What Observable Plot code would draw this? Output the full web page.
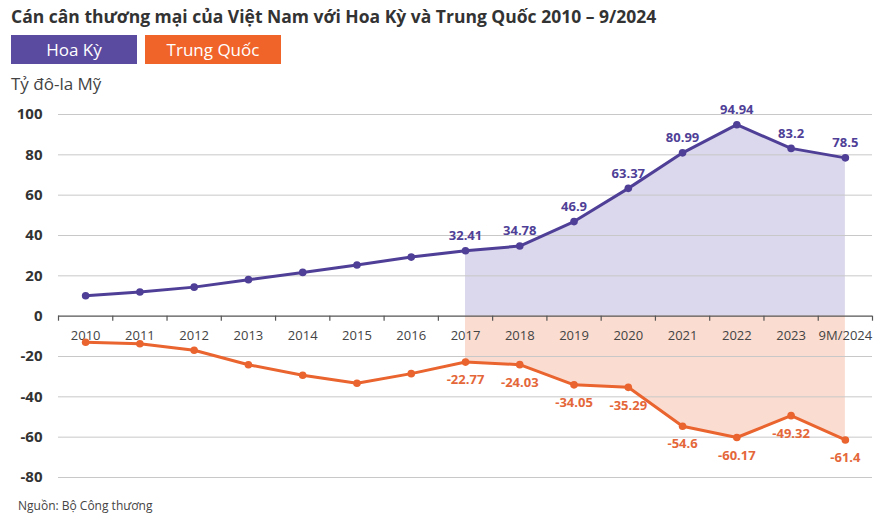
<!DOCTYPE html>
<html>
<head>
<meta charset="utf-8">
<script src="https://cdn.jsdelivr.net/npm/d3@7"></script>
<script src="https://cdn.jsdelivr.net/npm/@observablehq/plot@0.6"></script>
<style>
  body { margin: 0; background: #fff; }
  #wrap { position: relative; width: 884px; height: 520px; font-family: "Open Sans", sans-serif; overflow: hidden; }
  .abs { position: absolute; white-space: nowrap; }
  #title { left: 11px; top: 5px; font-size: 17.5px; line-height: 23px; font-weight: 700; color: #333; }
  .key { top: 35px; height: 29px; line-height: 29px; font-size: 17px; color: #fff; text-align: center; }
  #unit { left: 11px; top: 72px; font-size: 17px; line-height: 23px; color: #444; }
  #source { left: 18px; top: 498px; font-size: 12px; line-height: 16px; color: #444; }
  #chart { left: 0; top: 100px; }
</style>
</head>
<body>
<div id="wrap">
  <div id="title" class="abs">Cán cân thương mại của Việt Nam với Hoa Kỳ và Trung Quốc 2010 – 9/2024</div>
  <div class="abs key" style="left:11px;width:126px;background:#5a4aa0;">Hoa Kỳ</div>
  <div class="abs key" style="left:145px;width:136px;background:#f0642a;">Trung Quốc</div>
  <div id="unit" class="abs">Tỷ đô-la Mỹ</div>
  <div id="chart" class="abs"></div>
  <div id="source" class="abs">Nguồn: Bộ Công thương</div>
</div>
<script>
const categories = ["2010","2011","2012","2013","2014","2015","2016","2017","2018","2019","2020","2021","2022","2023","9M/2024"];
const usValues = [10.1, 12.0, 14.4, 18.1, 21.7, 25.4, 29.3, 32.41, 34.78, 46.9, 63.37, 80.99, 94.94, 83.2, 78.5];
const cnValues = [-12.9, -13.7, -16.9, -24.1, -29.3, -33.3, -28.5, -22.77, -24.03, -34.05, -35.29, -54.6, -60.17, -49.32, -61.4];
const yTicks = [-80, -60, -40, -20, 0, 20, 40, 60, 80, 100];
const labelFrom = "2017";

const US = "#4f3f97", CN = "#e9642e";
const rows = categories.map((c, i) => ({i, c, us: usValues[i], cn: cnValues[i]}));
const start = categories.indexOf(labelFrom);
const labeled = rows.filter(d => d.i >= start);
const bounds = d3.range(categories.length + 1).map(i => i - 0.5);

const chart = Plot.plot({
  width: 884,
  height: 410,
  marginTop: 14,
  marginBottom: 33,
  marginLeft: 58,
  marginRight: 12,
  style: {fontFamily: "Open Sans, sans-serif", background: "white", overflow: "visible"},
  x: {domain: [-0.5, categories.length - 0.5], axis: null},
  y: {domain: [-80, 100], axis: null},
  marks: [
    Plot.areaY(labeled, {x: "i", y1: 0, y2: "us", fill: "#dbd7ec"}),
    Plot.areaY(labeled, {x: "i", y1: 0, y2: "cn", fill: "#fbdcd0"}),
    Plot.gridY(yTicks.filter(v => v !== 0), {stroke: "#c8c8c8", strokeOpacity: 1, strokeWidth: 1}),
    Plot.ruleY([0], {stroke: "#555", strokeWidth: 1.2}),
    Plot.ruleX(bounds, {x: d => d, y1: 0, y2: -2.5, stroke: "#555", strokeWidth: 1.2}),
    Plot.text(rows, {x: "i", y: 0, dy: 20, text: "c", fontSize: 13, fill: "#444"}),
    Plot.axisY({ticks: yTicks, tickSize: 0, tickPadding: 16, tickFormat: d => String(d), fontSize: 15, fontWeight: 700, fill: "#333", label: null}),
    Plot.line(rows, {x: "i", y: "us", stroke: US, strokeWidth: 3}),
    Plot.dot(rows, {x: "i", y: "us", r: 3.8, fill: US}),
    Plot.line(rows, {x: "i", y: "cn", stroke: CN, strokeWidth: 3}),
    Plot.dot(rows, {x: "i", y: "cn", r: 3.8, fill: CN}),
    Plot.text(labeled, {x: "i", y: "us", text: d => String(d.us), dy: -15, fontSize: 13, fontWeight: 700, fill: US}),
    Plot.text(labeled, {x: "i", y: "cn", text: d => String(d.cn), dy: 18, fontSize: 13, fontWeight: 700, fill: "#e4673a"})
  ]
});
document.getElementById("chart").appendChild(chart);
</script>
</body>
</html>
